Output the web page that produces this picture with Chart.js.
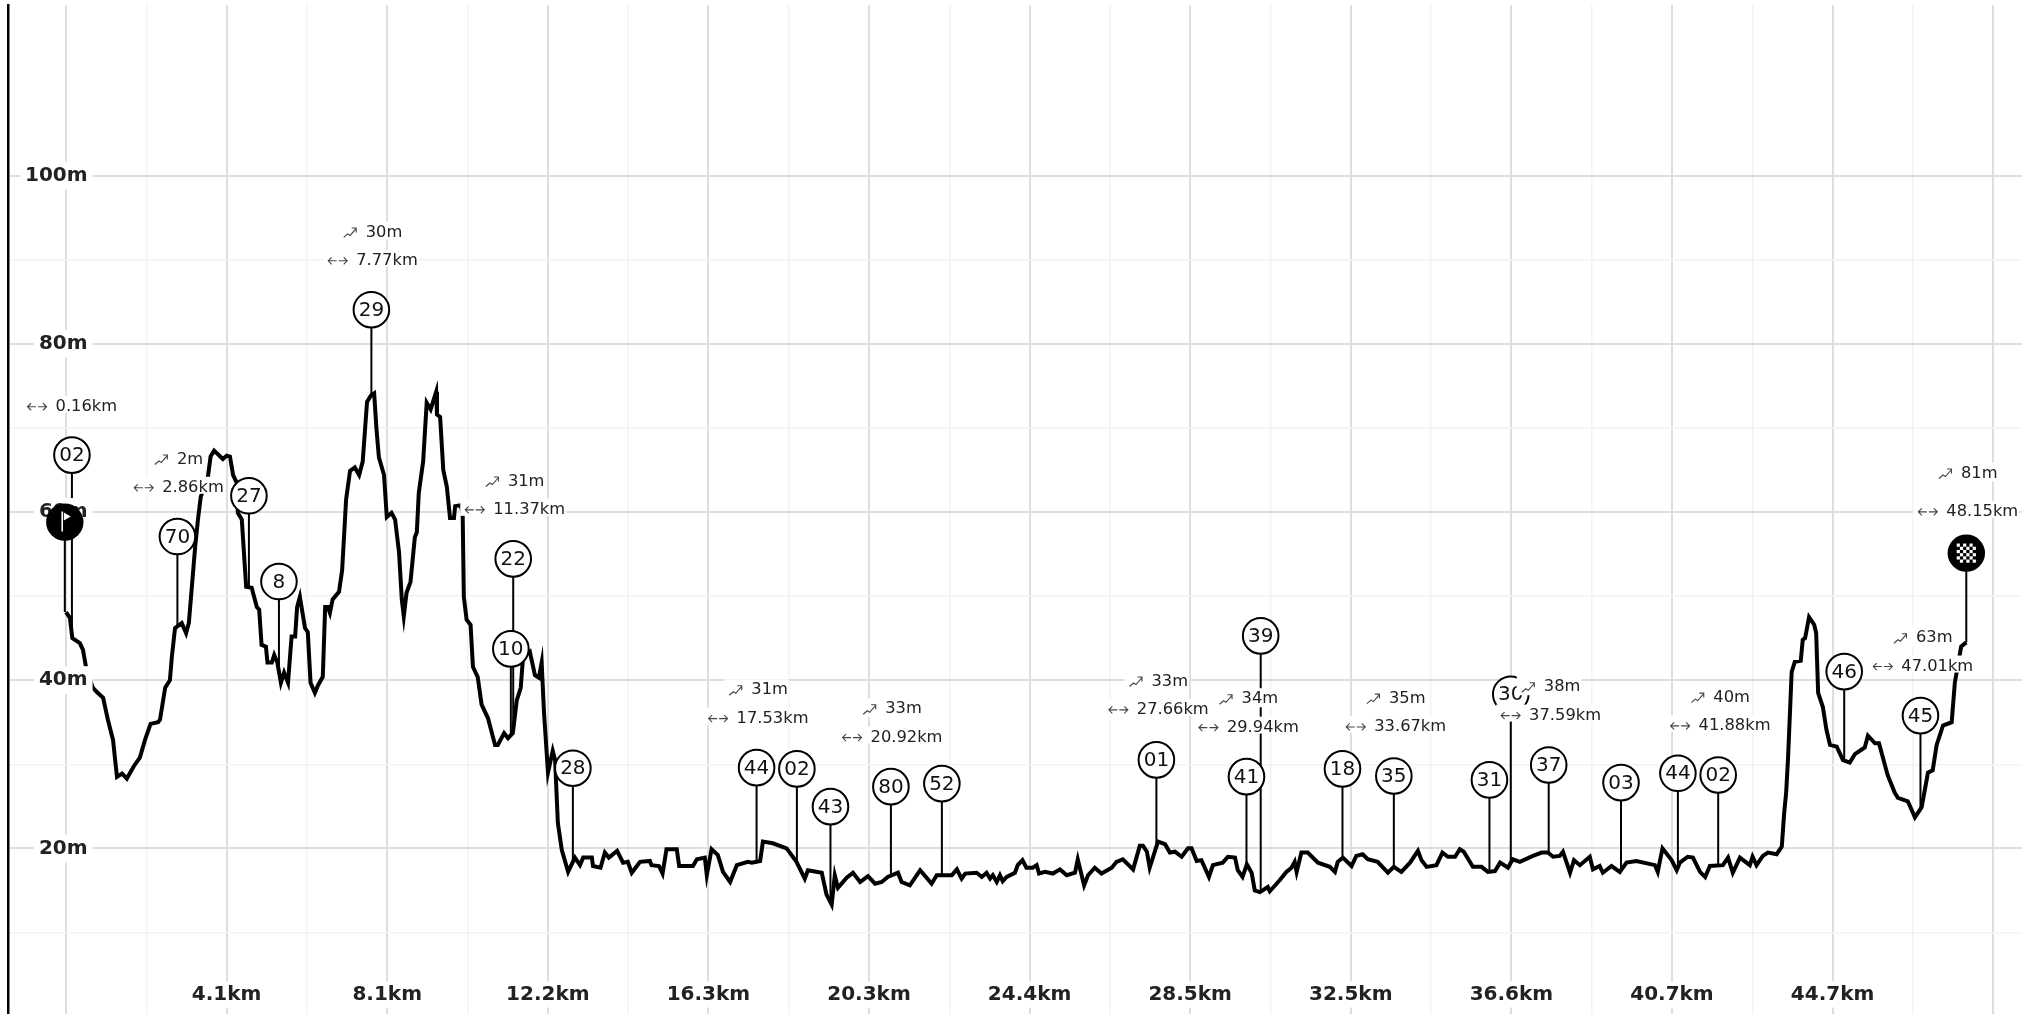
<!DOCTYPE html>
<html>
<head>
<meta charset="utf-8">
<style>html,body{margin:0;padding:0;background:#fff}canvas{display:block}</style>
<script src="https://cdn.jsdelivr.net/npm/chart.js@4"></script>
</head>
<body>
<canvas id="c" width="2035" height="1014"></canvas>
<script>
const profileKm = [0,.10,.16,.35,.43,.52,.68,.78,.94,1.06,1.19,1.29,1.42,1.54,1.72,1.87,2.0,2.14,2.33,2.38,2.51,2.63,2.68,2.76,2.93,3.04,3.11,3.27,3.34,3.41,3.59,3.66,3.75,3.97,4.07,4.15,4.23,4.32,4.35,4.45,4.56,4.70,4.83,4.89,4.95,5.06,5.10,5.21,5.27,5.35,5.44,5.52,5.62,5.71,5.80,5.85,5.92,6.05,6.12,6.19,6.30,6.38,6.50,6.56,6.63,6.68,6.75,6.91,6.99,7.09,7.19,7.31,7.42,7.51,7.62,7.71,7.80,7.86,7.92,8.05,8.12,8.24,8.33,8.43,8.50,8.55,8.62,8.72,8.83,8.88,8.93,9.04,9.13,9.23,9.37,9.39,9.47,9.55,9.64,9.72,9.82,9.85,9.99,10.04,10.07,10.14,10.24,10.30,10.42,10.52,10.68,10.86,10.93,11.09,11.19,11.31,11.41,11.51,11.57,11.74,11.87,11.97,12.04,12.10,12.20,12.32,12.38,12.45,12.55,12.71,12.88,13.01,13.09,13.31,13.34,13.53,13.64,13.74,13.95,14.10,14.22,14.32,14.53,14.78,14.82,15.01,15.10,15.20,15.46,15.52,15.87,15.97,16.17,16.22,16.34,16.50,16.63,16.81,16.98,17.26,17.36,17.57,17.64,17.89,18.24,18.49,18.70,18.78,19.13,19.25,19.38,19.46,19.54,19.76,19.92,20.10,20.30,20.48,20.65,20.80,21.06,21.15,21.36,21.62,21.91,22.04,22.42,22.55,22.67,22.76,23.05,23.18,23.30,23.39,23.46,23.56,23.64,23.71,23.81,24.02,24.09,24.21,24.31,24.47,24.57,24.63,24.78,24.98,25.16,25.33,25.54,25.61,25.77,25.87,26.04,26.21,26.47,26.59,26.75,27.01,27.18,27.26,27.36,27.43,27.64,27.82,27.94,28.07,28.24,28.40,28.49,28.62,28.74,28.93,29.03,29.28,29.41,29.59,29.66,29.78,29.89,30.01,30.09,30.22,30.42,30.47,30.72,30.89,31.02,31.10,31.15,31.27,31.43,31.69,31.99,32.12,32.19,32.32,32.54,32.66,32.82,32.95,33.20,33.46,33.61,33.80,34.02,34.22,34.31,34.44,34.69,34.84,34.98,35.16,35.28,35.38,35.61,35.83,35.99,36.17,36.30,36.50,36.62,36.80,37.13,37.35,37.51,37.64,37.81,37.89,38.07,38.17,38.32,38.57,38.65,38.82,38.90,39.12,39.33,39.50,39.75,40.22,40.29,40.41,40.64,40.77,40.85,41.05,41.18,41.36,41.49,41.61,41.94,42.07,42.19,42.37,42.62,42.69,42.79,42.95,43.08,43.30,43.43,43.49,43.54,43.59,43.68,43.76,43.91,43.96,44.02,44.12,44.25,44.30,44.35,44.47,44.56,44.65,44.82,44.98,45.15,45.28,45.53,45.61,45.79,45.89,46.11,46.29,46.37,46.62,46.80,46.97,47.13,47.25,47.35,47.51,47.73,47.81,47.97,48.10];
const profileM = [48.1,47.4,45.0,44.4,43.6,41.2,39.1,38.6,37.9,35.3,32.9,28.5,28.9,28.3,29.8,30.8,32.9,34.8,35.0,35.3,39.1,40.0,42.8,46.2,46.8,45.6,46.8,55.9,59.1,61.8,64.1,66.6,67.3,66.3,66.7,66.6,64.4,63.5,59.9,59.1,51.1,51.0,48.7,48.4,44.2,44.0,42.1,42.1,43.0,42.1,39.7,40.9,39.7,45.2,45.2,48.7,49.9,46.2,45.7,39.7,38.5,39.4,40.4,48.7,48.7,48.0,49.6,50.5,53.1,61.5,64.9,65.3,64.4,66.0,73.1,73.8,74.1,69.8,66.5,64.4,59.4,59.9,59.1,55.2,49.6,47.6,50.4,51.7,57.0,57.6,62.3,66.0,73.0,72.2,74.3,71.6,71.3,65.0,63.0,59.3,59.3,60.7,60.8,59.9,49.9,47.2,46.6,41.6,40.4,37.1,35.5,32.3,32.3,33.7,33.1,33.7,37.6,39.1,42.8,43.4,40.6,40.3,42.1,36.1,29.0,31.6,30.5,23.0,19.8,17.2,18.9,18.0,18.9,18.9,17.9,17.7,19.5,18.9,19.7,18.3,18.4,17.1,18.4,18.5,18.0,17.9,17.0,19.9,19.9,17.9,17.9,18.7,18.9,16.8,19.9,19.2,17.2,16.0,18.0,18.4,18.3,18.5,20.8,20.6,20.0,18.4,16.4,17.4,17.1,14.5,13.3,16.8,15.3,16.5,17.1,16.0,16.7,15.8,16.0,16.6,17.1,16.0,15.6,17.4,15.8,16.8,16.8,17.5,16.4,17.0,17.1,16.6,17.1,16.4,16.8,16.0,16.8,16.1,16.6,17.1,18.0,18.6,17.7,17.7,18.0,17.0,17.2,17.0,17.5,16.8,17.1,18.7,15.6,16.8,17.7,17.0,17.7,18.4,18.7,17.5,20.3,20.3,19.6,17.7,20.8,20.5,19.5,19.6,19.0,20.0,20.0,18.5,18.6,16.6,18.0,18.3,19.0,18.9,17.4,16.6,18.1,17.1,15.0,14.8,15.4,14.9,16.2,17.2,17.7,18.4,17.2,19.5,19.5,18.3,17.8,17.2,18.4,18.9,17.9,19.1,19.3,18.7,18.4,17.1,17.8,17.2,18.3,19.7,18.6,17.8,18.0,19.5,19.0,19.0,19.9,19.6,17.8,17.8,17.2,17.3,18.3,17.7,18.7,18.4,19.1,19.5,19.5,19.0,19.1,19.6,17.1,18.6,18.0,19.0,17.5,17.9,17.1,17.9,17.2,18.3,18.5,18.0,17.2,20.0,18.6,17.4,18.3,19.0,18.9,17.2,16.6,17.9,18.0,18.9,17.1,18.9,18.0,19.0,18.0,19.1,19.5,19.3,20.2,24.2,26.6,30.9,41.0,42.2,42.3,44.8,45.0,47.5,46.6,45.6,38.5,36.8,34.1,32.3,32.1,30.5,30.2,31.2,32.0,33.4,32.5,32.5,28.7,26.6,26.0,25.6,23.7,24.9,29.0,29.3,32.3,34.6,35.0,39.7,44.0,44.5];

const markerLabels = ['02','70','27','8','29','22','10','28','44','02','43','80','52','01','41','39','18','35','31','30','37','03','44','02','46','45'];
const markerKm = [0.15,2.82,4.63,5.39,7.73,11.32,11.26,12.83,17.48,18.50,19.35,20.88,22.17,27.60,29.88,30.24,32.31,33.61,36.03,36.57,37.53,39.36,40.80,41.82,45.01,46.94];
const markerTopM = [66.77,57.08,61.93,51.73,84.06,54.43,43.72,29.53,29.60,29.45,24.96,27.34,27.70,30.52,28.53,45.27,29.45,28.61,28.14,38.33,29.92,27.82,28.93,28.73,41.02,35.79];
const startKm = -0.03, startTopM = 58.8, finishKm = 48.10, finishTopM = 55.11;

const passKm = [0.16,2.86,7.77,11.37,17.53,20.92,27.66,29.94,33.67,37.59,41.88,47.01,48.15];
const passRiseM = [null,2,30,31,31,33,33,34,35,38,40,63,81];
const passRowM = [72.64,63.0,90.0,60.38,35.55,33.29,36.59,34.48,34.56,35.91,34.68,41.74,60.14];
const passRiseRowM = [null,66.37,93.37,63.75,38.92,36.66,39.96,37.85,37.93,39.28,38.05,45.11,64.70];

const xTickStepKm = 4.065;
const xTickCount = 12;
const yTickValues = [10,20,30,40,50,60,70,80,90,100];
const yLabelled = [20,40,60,80,100];
const xMinKm = -1.468, xMaxKm = 49.51, yMinM = 0.3, yMaxM = 120.3;

const MAJOR = '#dedede', MINOR = '#f3f3f3', INK = '#222', FONT = '"DejaVu Sans"';

function elevationAt(km){
  if (km <= profileKm[0]) return profileM[0];
  for (let i = 1; i < profileKm.length; i++){
    if (km <= profileKm[i]){
      const t = (km - profileKm[i-1])/(profileKm[i]-profileKm[i-1]);
      return profileM[i-1] + t*(profileM[i]-profileM[i-1]);
    }
  }
  return profileM[profileM.length-1];
}

const stems = [];
[[startKm,startTopM],[finishKm,finishTopM]].concat(markerKm.map((k,i)=>[k,markerTopM[i]])).forEach(([k,t])=>{
  stems.push({x:k,y:elevationAt(Math.max(k,0))},{x:k,y:t},{x:k,y:NaN});
});

function isMajorX(v){ return Math.abs(v/xTickStepKm - Math.round(v/xTickStepKm)) < 1e-6; }
function xLabelled(v){ const n = Math.round(v/xTickStepKm); return isMajorX(v) && n >= 1 && n <= 11; }
function noPadding(s){ s.paddingLeft=s.paddingRight=s.paddingTop=s.paddingBottom=0; }

function drawTrend(ctx,x,y){
  ctx.save(); ctx.strokeStyle='#444'; ctx.lineWidth=1.1; ctx.beginPath();
  ctx.moveTo(x,y+5); ctx.lineTo(x+4,y+1.5); ctx.lineTo(x+6.5,y+3); ctx.lineTo(x+12.5,y-4);
  ctx.moveTo(x+8,y-4.5); ctx.lineTo(x+12.5,y-4.5); ctx.lineTo(x+12.5,y); ctx.stroke(); ctx.restore();
}
function drawSpan(ctx,x,y){
  ctx.save(); ctx.strokeStyle='#444'; ctx.lineWidth=1.1; ctx.beginPath();
  ctx.moveTo(x+8.5,y); ctx.lineTo(x,y); ctx.moveTo(x+3.5,y-3.5); ctx.lineTo(x,y); ctx.lineTo(x+3.5,y+3.5);
  ctx.moveTo(x+10.5,y); ctx.lineTo(x+19,y); ctx.moveTo(x+15.5,y-3.5); ctx.lineTo(x+19,y); ctx.lineTo(x+15.5,y+3.5);
  ctx.stroke(); ctx.restore();
}
function passRow(ctx,cx,y,text,iconW,icon,below){
  ctx.font = '16.3px '+FONT;
  const tw = ctx.measureText(text).width, total = iconW + 9 + tw, left = cx - total/2;
  ctx.fillStyle='#fff';
  ctx.fillRect(left-5, y-10, total+6, 10+below);
  icon(ctx,left,y+1);
  ctx.fillStyle=INK; ctx.textAlign='left'; ctx.textBaseline='middle';
  ctx.fillText(text,left+iconW+9,y+1);
}

const annotations = {
  id:'annotations',
  afterDraw(chart){
    const ctx = chart.ctx, X = chart.scales.x, Y = chart.scales.y;
    ctx.save();
    ctx.font='20px '+FONT; ctx.textAlign='center'; ctx.textBaseline='middle'; ctx.fillStyle='#111';
    markerLabels.forEach((t,i)=>ctx.fillText(t,X.getPixelForValue(markerKm[i]),Y.getPixelForValue(markerTopM[i])+1));
    const sx = X.getPixelForValue(startKm), sy = Y.getPixelForValue(startTopM);
    ctx.fillStyle='#000'; ctx.beginPath(); ctx.arc(sx,sy,18.7,0,Math.PI*2); ctx.fill();
    ctx.fillStyle='#fff'; ctx.fillRect(sx-3.4,sy-10.6,1.6,20);
    ctx.beginPath(); ctx.moveTo(sx-1,sy-9.6); ctx.lineTo(sx+6,sy-5.6); ctx.lineTo(sx-1,sy-1.6); ctx.closePath(); ctx.fill();
    const fx = X.getPixelForValue(finishKm), fy = Y.getPixelForValue(finishTopM);
    ctx.fillStyle='#000'; ctx.beginPath(); ctx.arc(fx,fy,18.7,0,Math.PI*2); ctx.fill();
    ctx.fillStyle='#fff';
    for (let r=0;r<6;r++) for (let c=0;c<6;c++) if ((r+c)%2===0) ctx.fillRect(fx-9.6+c*3.2,fy-9.6+r*3.2,3.2,3.2);
    passKm.forEach((k,i)=>{
      const cx = X.getPixelForValue(k);
      if (passRiseM[i]!==null) passRow(ctx,cx,Y.getPixelForValue(passRiseRowM[i]),passRiseM[i]+'m',13,drawTrend,9);
      passRow(ctx,cx,Y.getPixelForValue(passRowM[i]),k.toFixed(2)+'km',19,drawSpan,7);
    });
    ctx.restore();
  }
};

new Chart(document.getElementById('c'),{
  type:'scatter',
  data:{datasets:[
    {label:'waypoints',order:1,showLine:false,data:markerKm.map((k,i)=>({x:k,y:markerTopM[i]})),
     pointRadius:17.8,pointBackgroundColor:'#fff',pointBorderColor:'#000',pointBorderWidth:2},
    {label:'stems',order:2,showLine:true,data:stems,borderColor:'#000',borderWidth:2,pointRadius:0,spanGaps:false},
    {label:'elevation',order:3,showLine:true,data:profileKm.map((k,i)=>({x:k,y:profileM[i]})),
     borderColor:'#000',borderWidth:4,pointRadius:0,borderJoinStyle:'miter',tension:0}
  ]},
  options:{
    responsive:false,animation:false,devicePixelRatio:1,
    layout:{autoPadding:false,padding:{left:8,right:13,top:5,bottom:0}},
    plugins:{legend:{display:false},tooltip:{enabled:false}},
    scales:{
      x:{type:'linear',position:'bottom',min:xMinKm,max:xMaxKm,
        afterBuildTicks(s){const t=[];for(let i=0;i<=xTickCount*2;i++)t.push({value:i*xTickStepKm/2});s.ticks=t;},
        afterFit(s){s.height=0;noPadding(s);},
        border:{display:false},
        grid:{drawTicks:false,tickLength:0,
          color:c=>isMajorX(c.tick.value)?MAJOR:MINOR,
          lineWidth:c=>isMajorX(c.tick.value)?2:1.5},
        ticks:{autoSkip:false,maxRotation:0,minRotation:0,mirror:true,padding:7.5,z:1,
          font:{family:FONT,weight:'bold',size:20},color:INK,
          showLabelBackdrop:c=>xLabelled(c.tick.value),backdropColor:'#fff',backdropPadding:{x:5,y:1},
          callback:v=>xLabelled(v)?(v.toFixed(1)+'km'):''}
      },
      y:{type:'linear',position:'left',min:yMinM,max:yMaxM,
        afterBuildTicks(s){s.ticks=yTickValues.map(v=>({value:v}));},
        afterFit(s){s.width=0;noPadding(s);},
        border:{display:true,color:'#000',width:2.5},
        grid:{drawTicks:false,tickLength:0,
          color:c=>yLabelled.includes(c.tick.value)?MAJOR:MINOR,
          lineWidth:c=>yLabelled.includes(c.tick.value)?2:1.5},
        ticks:{mirror:true,crossAlign:'far',padding:17,z:1,autoSkip:false,
          font:{family:FONT,weight:'bold',size:20},color:INK,
          showLabelBackdrop:c=>yLabelled.includes(c.tick.value),backdropColor:'#fff',backdropPadding:{x:5,y:2},
          callback:v=>yLabelled.includes(v)?(v+'m'):''}
      }
    }
  },
  plugins:[annotations]
});
</script>
</body>
</html>
